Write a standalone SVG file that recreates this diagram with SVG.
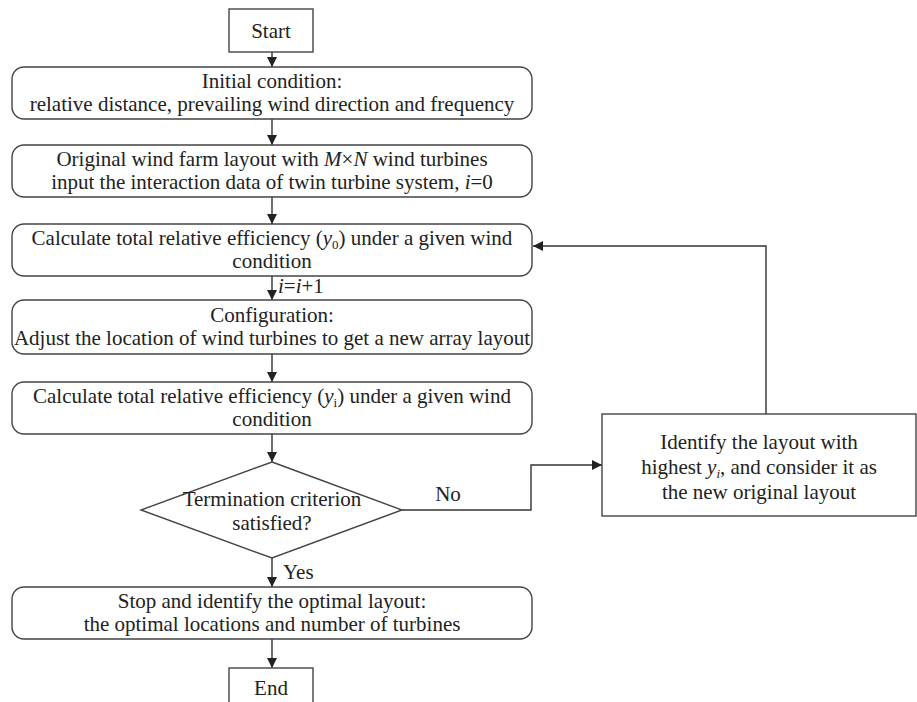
<svg xmlns="http://www.w3.org/2000/svg" width="917" height="702" viewBox="0 0 917 702">
<defs>
<marker id="ah" viewBox="0 0 10 10" refX="10" refY="5" markerWidth="10" markerHeight="10" markerUnits="userSpaceOnUse" orient="auto">
<path d="M0,0 L10,5 L0,10 Z" fill="#222"/>
</marker>
</defs>
<style>
.b{fill:#fff;stroke:#444;stroke-width:1.4}
.t{font-family:"Liberation Serif","Times New Roman",serif;font-size:21px;fill:#222;text-anchor:middle}
.l{font-family:"Liberation Serif","Times New Roman",serif;font-size:21px;fill:#222}
.c{fill:none;stroke:#333;stroke-width:1.4}
.it{font-style:italic}
.s{font-size:13px}
</style>
<rect width="917" height="702" fill="#fff"/>
<g id="connectors">
<line class="c" x1="272" y1="52" x2="272" y2="67" marker-end="url(#ah)"/>
<line class="c" x1="272" y1="119" x2="272" y2="145" marker-end="url(#ah)"/>
<line class="c" x1="272" y1="197" x2="272" y2="224" marker-end="url(#ah)"/>
<line class="c" x1="272" y1="276" x2="272" y2="300" marker-end="url(#ah)"/>
<line class="c" x1="272" y1="354" x2="272" y2="382" marker-end="url(#ah)"/>
<line class="c" x1="272" y1="434" x2="272" y2="462" marker-end="url(#ah)"/>
<line class="c" x1="272" y1="558" x2="272" y2="587" marker-end="url(#ah)"/>
<line class="c" x1="272" y1="639" x2="272" y2="668" marker-end="url(#ah)"/>
<polyline class="c" points="402,510 531,510 531,465 602,465" marker-end="url(#ah)"/>
<polyline class="c" points="766,414 766,246 533,246" marker-end="url(#ah)"/>
<text class="l" x="278" y="293"><tspan class="it">i</tspan>=<tspan class="it">i</tspan>+1</text>
<text class="l" x="283" y="579">Yes</text>
<text class="t" x="448" y="501">No</text>
</g>
<g id="start">
<rect class="b" x="229" y="9" width="84" height="43"/>
<text class="t" x="271" y="38">Start</text>
</g>
<g id="init">
<rect class="b" x="12" y="67" width="520" height="52" rx="12"/>
<text class="t" x="272" y="88">Initial condition:</text>
<text class="t" x="272" y="111">relative distance, prevailing wind direction and frequency</text>
</g>
<g id="original">
<rect class="b" x="12" y="145" width="520" height="52" rx="12"/>
<text class="t" x="272" y="166">Original wind farm layout with <tspan class="it">M</tspan>×<tspan class="it">N</tspan> wind turbines</text>
<text class="t" x="272" y="189">input the interaction data of twin turbine system, <tspan class="it">i</tspan>=0</text>
</g>
<g id="calc0">
<rect class="b" x="12" y="224" width="520" height="52" rx="12"/>
<text class="t" x="272" y="245">Calculate total relative efficiency (<tspan class="it">y</tspan><tspan class="s" dy="4">0</tspan><tspan dy="-4">) under a given wind</tspan></text>
<text class="t" x="272" y="268">condition</text>
</g>
<g id="config">
<rect class="b" x="12" y="300" width="520" height="54" rx="12"/>
<text class="t" x="272" y="322">Configuration:</text>
<text class="t" x="272" y="345">Adjust the location of wind turbines to get a new array layout</text>
</g>
<g id="calci">
<rect class="b" x="12" y="382" width="520" height="52" rx="12"/>
<text class="t" x="272" y="403">Calculate total relative efficiency (<tspan class="it">y</tspan><tspan class="s" dy="4">i</tspan><tspan dy="-4">) under a given wind</tspan></text>
<text class="t" x="272" y="426">condition</text>
</g>
<g id="decision">
<polygon class="b" points="272,462 402,510 272,558 141,510"/>
<text class="t" x="272" y="506">Termination criterion</text>
<text class="t" x="272" y="530">satisfied?</text>
</g>
<g id="identify">
<rect class="b" x="602" y="414" width="314" height="102"/>
<text class="t" x="759" y="449">Identify the layout with</text>
<text class="t" x="759" y="474">highest <tspan class="it">y</tspan><tspan class="it s" dy="4">i</tspan><tspan dy="-4">, and consider it as</tspan></text>
<text class="t" x="759" y="499">the new original layout</text>
</g>
<g id="stop">
<rect class="b" x="12" y="587" width="520" height="52" rx="12"/>
<text class="t" x="272" y="608">Stop and identify the optimal layout:</text>
<text class="t" x="272" y="631">the optimal locations and number of turbines</text>
</g>
<g id="end">
<rect class="b" x="229" y="668" width="84" height="45"/>
<text class="t" x="271" y="695">End</text>
</g>
</svg>
